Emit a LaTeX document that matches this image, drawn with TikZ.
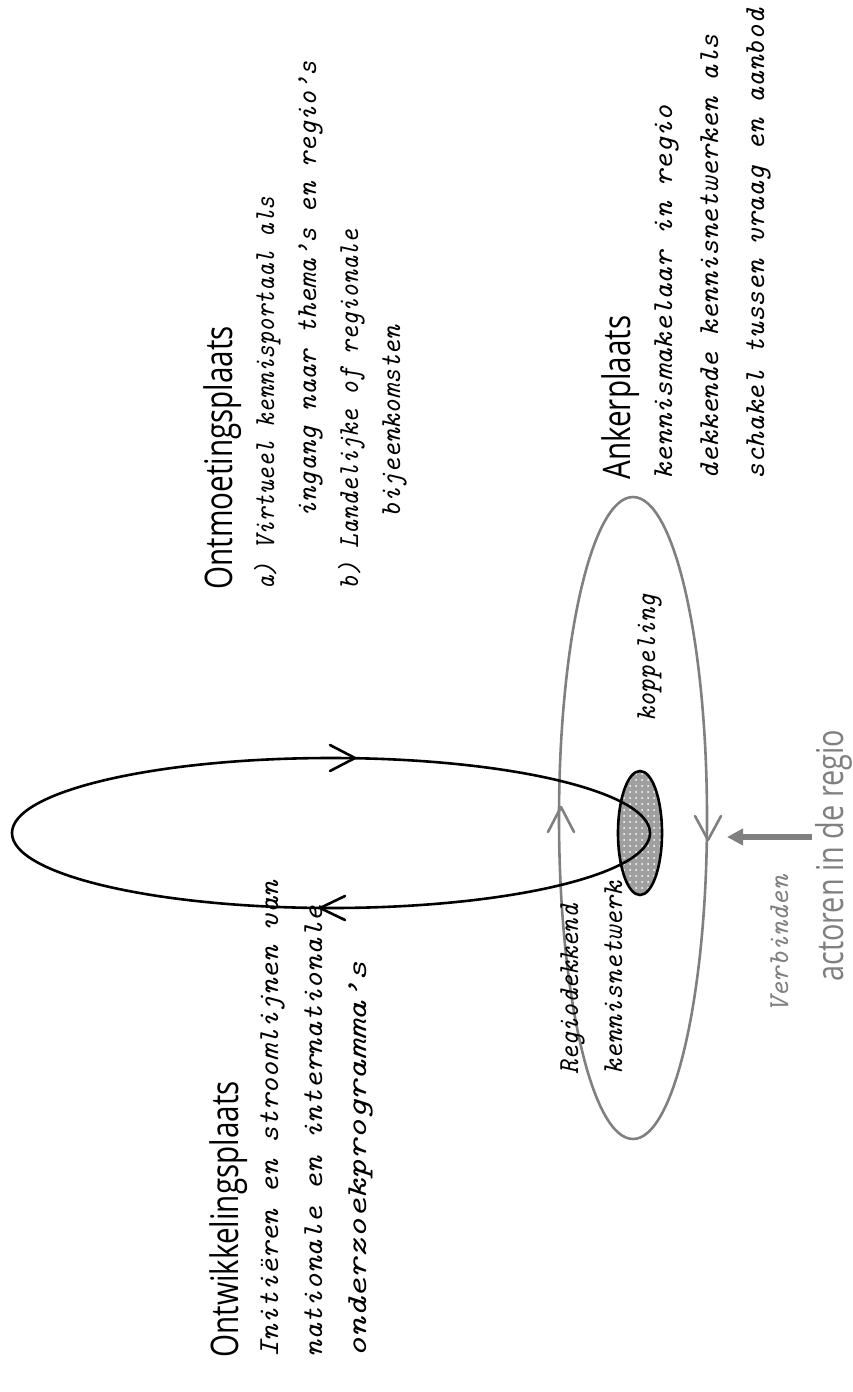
\documentclass[tikz,border=0pt]{standalone}
\usepackage{fontspec}
\usetikzlibrary{patterns,arrows.meta}
\newfontfamily\headfont[FakeStretch=0.78]{Open Sans}
\definecolor{mygray}{HTML}{808080}
\begin{document}
\begin{tikzpicture}[x=0.5pt,y=-0.5pt,
  headtxt/.style={font=\headfont\fontsize{19}{21}\selectfont, rotate=90, anchor=base west, inner sep=0pt},
  bodytxt/.style={font=\ttfamily\itshape\fontsize{14.5}{18}\selectfont, rotate=90, anchor=base west, inner sep=0pt},
  blackline/.style={draw=black, line width=1.3pt},
  grayline/.style={draw=mygray, line width=1.3pt},
  chev/.style={line width=1.3pt, line cap=round, line join=round}]
\useasboundingbox[fill=white] (0,0) rectangle (852,1392);

% gray ellipse (region)
\draw[grayline] (633,818) ellipse [x radius=74, y radius=321];
% black ellipse (loop)
\draw[blackline] (331,833) ellipse [x radius=319, y radius=75];
% small dotted ellipse
\fill[gray!75] (640,833) ellipse [x radius=22, y radius=62];
\fill[pattern=dots, pattern color=white] (640,833) ellipse [x radius=22, y radius=62];
\draw[blackline] (640,833) ellipse [x radius=22, y radius=62];
% black loop tip visible inside the small ellipse
\begin{scope}
\clip (640,833) ellipse [x radius=22, y radius=62];
\draw[blackline] (331,833) ellipse [x radius=319, y radius=75];
\end{scope}

% chevrons on black ellipse
\draw[chev] (330,745) -- (355,758) -- (330,771);
\draw[chev] (345,896) -- (320,908) -- (345,920);
% chevrons on gray ellipse
\draw[chev, mygray] (548,832) -- (561,807) -- (574,832);
\draw[chev, mygray] (695,816) -- (708,840) -- (721,816);

% gray arrow from actors
\coordinate (arrstart) at (812,837);
\coordinate (arrend) at (727,837);
\draw[mygray, line width=2.6pt, -{Triangle[length=8pt,width=8pt]}] (arrstart) -- (arrend);

% Ontwikkelingsplaats
\node[headtxt] (ow) at (238,1358) {Ontwikkelingsplaats};
\node[bodytxt, xscale=1.08] (ow1) at (278,1358) {Initiëren en stroomlijnen van};
\node[bodytxt, xscale=1.10] (ow2) at (322,1358) {nationale en internationale};
\node[bodytxt, xscale=1.30] (ow3) at (366,1358) {onderzoekprogramma’s};

% Ontmoetingsplaats
\node[headtxt] (om) at (232,590) {Ontmoetingsplaats};
\node[bodytxt, xscale=0.89] (om1) at (274,590) {a) Virtueel kennisportaal als};
\node[bodytxt] (om2) at (316,518) {ingang naar thema’s en regio’s};
\node[bodytxt, xscale=0.91] (om3) at (358,590) {b) Landelijke of regionale};
\node[bodytxt, xscale=0.97] (om4) at (400,518) {bijeenkomsten};

% Ankerplaats
\node[headtxt] (ak) at (630,480) {Ankerplaats};
\node[bodytxt, xscale=1.07] (ak1) at (672,480) {kennismakelaar in regio};
\node[bodytxt, xscale=1.045] (ak2) at (718,480) {dekkende kennisnetwerken als};
\node[bodytxt, xscale=1.03] (ak3) at (764,480) {schakel tussen vraag en aanbod};

% inner labels
\node[bodytxt, xscale=0.93] (kop) at (655,722) {koppeling};
\node[bodytxt, xscale=0.93] (rk1) at (578,1075) {Regiodekkend};
\node[bodytxt, xscale=0.975] (rk2) at (622,1075) {kennisnetwerk};

% actors
\node[bodytxt, text=mygray] (verb) at (788,1013) {Verbinden};
\node[headtxt, text=mygray, font=\headfont\fontsize{18.5}{21}\selectfont] (act) at (843,982) {actoren in de regio};
\end{tikzpicture}
\end{document}
